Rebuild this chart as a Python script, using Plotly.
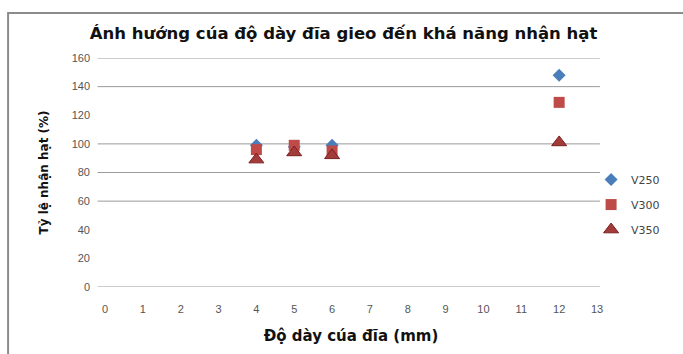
import plotly.graph_objects as go

# Disc thickness (mm) and seed pick-up rate (%) for three disc speeds
thickness = [4, 5, 6, 12]
v250 = [99, 98, 99, 148]
v300 = [96, 99, 95, 129]
v350 = [89, 94, 92, 101]

series_names = ["V250", "V300", "V350"]
x_ticks = list(range(0, 14))
y_ticks = list(range(0, 161, 20))
grid_levels = [0, 60, 80, 100, 140, 160]

fig = go.Figure()
fig.add_trace(go.Scatter(x=thickness, y=v250, mode="markers", name=series_names[0],
                         legendgroup="a",
                         marker=dict(symbol="diamond", size=10, color="#4a7ebb")))
fig.add_trace(go.Scatter(x=thickness, y=v300, mode="markers", name=series_names[1],
                         legendgroup="b",
                         marker=dict(symbol="square", size=11, color="#be4b48")))
fig.add_trace(go.Scatter(x=thickness, y=v350, mode="markers", name=series_names[2],
                         legendgroup="c",
                         marker=dict(symbol="triangle-up", size=13, color="#a33b3b",
                                     line=dict(color="#7a2020", width=1))))

shapes = [dict(type="line", xref="paper", yref="y", x0=-0.015, x1=1.006, y0=g, y1=g,
               line=dict(color="#9a9a9a", width=1), layer="below") for g in grid_levels]
# outer chart frame
shapes.append(dict(type="rect", xref="paper", yref="paper", x0=-0.197, x1=1.3,
                   y0=-0.5, y1=1.1965, line=dict(color="#8c8c8c", width=2)))

fig.update_layout(
    width=683, height=354,
    margin=dict(l=105, r=86, t=58, b=67),
    paper_bgcolor="white", plot_bgcolor="white",
    title=dict(text="<b>Ánh hướng cúa độ dày đĩa gieo đến khá năng nhận hạt</b>",
               x=0.503, xanchor="center", y=0.905, yanchor="middle",
               font=dict(family="DejaVu Sans", size=16.5, color="#111")),
    xaxis=dict(range=[0, 13], tickvals=x_ticks, showgrid=False, zeroline=False,
               showline=False, ticks="", ticklabelstandoff=14,
               tickfont=dict(family="Liberation Sans", size=11, color="#555"),
               title=dict(text="<b>Độ dày cúa đĩa (mm)</b>", standoff=16,
                          font=dict(family="DejaVu Sans", size=15, color="#111"))),
    yaxis=dict(range=[0, 160], tickvals=y_ticks, showgrid=False, zeroline=False,
               showline=False, ticks="", ticklabelstandoff=14,
               tickfont=dict(family="Liberation Sans", size=11, color="#555"),
               title=dict(text="<b>Tỷ lệ nhận hạt (%)</b>", standoff=20,
                          font=dict(family="DejaVu Sans", size=12, color="#111"))),
    legend=dict(x=0.988, y=0.36, xanchor="left", yanchor="middle",
                font=dict(family="DejaVu Sans", size=11, color="#444"),
                tracegroupgap=6, bgcolor="rgba(0,0,0,0)"),
    shapes=shapes,
)

fig.write_html("out.html")
